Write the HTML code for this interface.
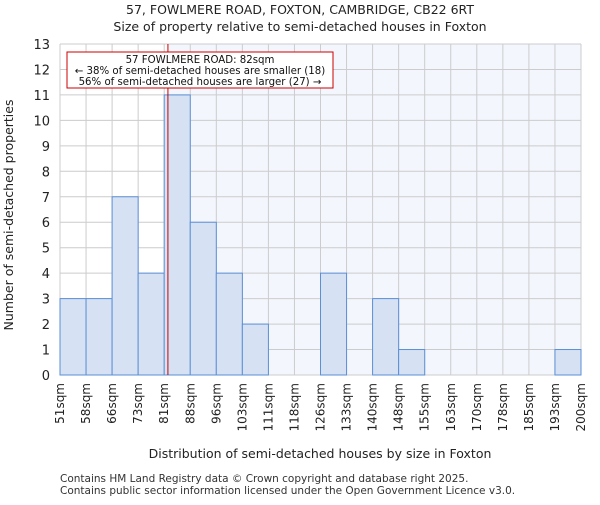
<!DOCTYPE html>
<html><head><meta charset="utf-8"><style>body{margin:0;background:#fff}svg{font-family:"DejaVu Sans",sans-serif}</style></head>
<body>
<svg id="c" width="600" height="500" xmlns="http://www.w3.org/2000/svg"></svg>
<script>
const binLabels=["51sqm","58sqm","66sqm","73sqm","81sqm","88sqm","96sqm","103sqm","111sqm","118sqm","126sqm","133sqm","140sqm","148sqm","155sqm","163sqm","170sqm","178sqm","185sqm","193sqm","200sqm"];
const binEdges=[51,58,66,73,81,88,96,103,111,118,126,133,140,148,155,163,170,178,185,193,200];
const counts=[3,3,7,4,11,6,4,2,0,0,4,0,3,1,0,0,0,0,0,1];
const yTicks=[0,1,2,3,4,5,6,7,8,9,10,11,12,13];
const propertySize=82;
const NS="http://www.w3.org/2000/svg",svg=document.getElementById('c');
const L=60,R=581,T=44,B=375,yMax=13;
const n=counts.length,bw=(R-L)/n;
const xi=i=>L+i*bw;
const xv=v=>{for(let i=0;i<binEdges.length-1;i++){if(v<=binEdges[i+1])return xi(i)+(v-binEdges[i])/(binEdges[i+1]-binEdges[i])*bw;}return R;};
const y=v=>B-v/yMax*(B-T);
function el(t,a,txt){const e=document.createElementNS(NS,t);for(const k in a)e.setAttribute(k,a[k]);if(txt!==undefined)e.textContent=txt;svg.appendChild(e);return e;}
const px=xv(propertySize);
let e=el('rect',{x:L,y:T,width:R-L,height:B-T,fill:'#fff'});


e=el('rect',{x:px,y:T,width:R-px,height:B-T,fill:'#f3f6fd'});


for(let i=0;i<=n;i++){e=el('line',{x1:xi(i),x2:xi(i),y1:T,y2:B,stroke:'#ccc','stroke-width':1});

}
yTicks.forEach(t=>{e=el('line',{x1:L,x2:R,y1:y(t),y2:y(t),stroke:'#ccc','stroke-width':1});


e=el('text',{x:L-10,y:y(t)+5,'text-anchor':'end','font-size':13,fill:'#222'},t);

});
counts.forEach((c,i)=>{if(c<=0)return;e=el('rect',{x:xi(i),y:y(c),width:bw,height:B-y(c),fill:'#d6e2f3',stroke:'#5b8fd6','stroke-width':1});

});
binLabels.forEach((l,i)=>{const X=xi(i)+4;e=el('text',{x:0,y:0,transform:`translate(${X},383) rotate(-90)`,'text-anchor':'end','font-size':12,fill:'#222'},l);

});
e=el('line',{x1:px,x2:px,y1:T,y2:B,stroke:'#cc0000','stroke-width':1});


e=el('rect',{x:67,y:52,width:266,height:36,fill:'#fff',stroke:'#cc0000','stroke-width':1});


[["57 FOWLMERE ROAD: 82sqm",63],["← 38% of semi-detached houses are smaller (18)",74],["56% of semi-detached houses are larger (27) →",85]].forEach(([t,yy])=>{e=el('text',{x:200,y:yy,'text-anchor':'middle','font-size':10.2,fill:'#111'},t);

});
e=el('text',{x:300,y:14,'text-anchor':'middle','font-size':12.5,fill:'#222'},'57, FOWLMERE ROAD, FOXTON, CAMBRIDGE, CB22 6RT');


e=el('text',{x:300,y:31,'text-anchor':'middle','font-size':12.5,fill:'#222'},'Size of property relative to semi-detached houses in Foxton');


e=el('text',{x:320,y:458,'text-anchor':'middle','font-size':12.5,fill:'#222'},'Distribution of semi-detached houses by size in Foxton');


e=el('text',{x:0,y:0,transform:'translate(13,215) rotate(-90)','text-anchor':'middle','font-size':12.5,fill:'#222'},'Number of semi-detached properties');


e=el('text',{x:60,y:482,'font-size':10.5,fill:'#333'},'Contains HM Land Registry data © Crown copyright and database right 2025.');


e=el('text',{x:60,y:494,'font-size':10.5,fill:'#333'},'Contains public sector information licensed under the Open Government Licence v3.0.');


</script>
</body></html>
